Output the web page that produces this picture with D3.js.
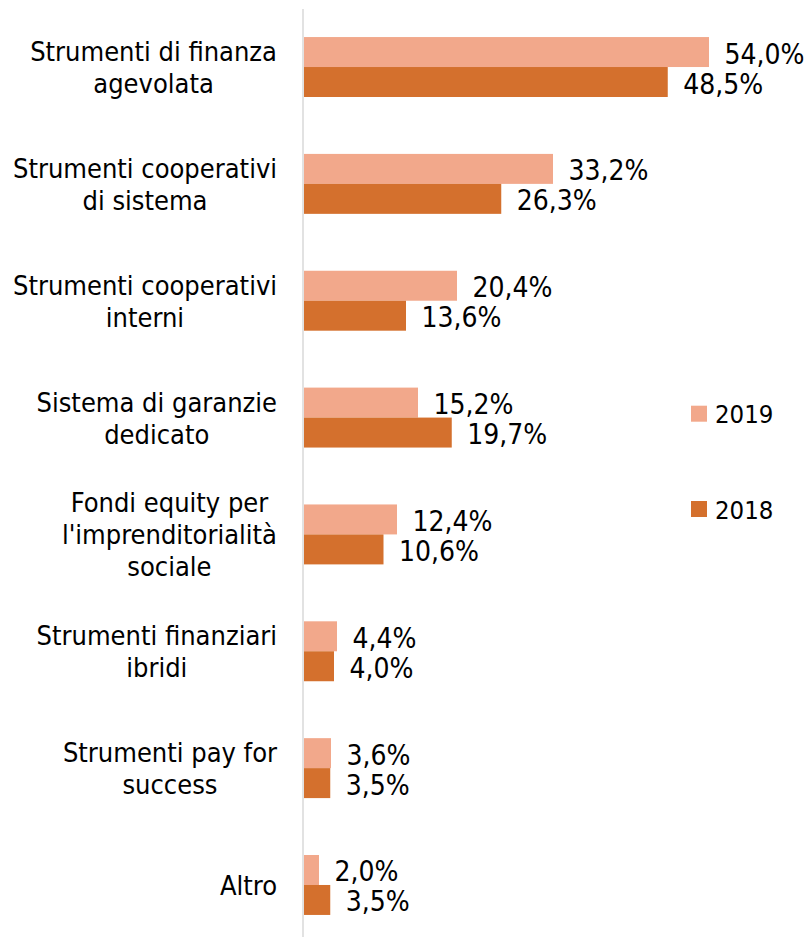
<!DOCTYPE html>
<html><head><meta charset="utf-8">
<script src="https://cdn.jsdelivr.net/npm/d3@7"></script>
<style>body{margin:0;background:#fff;} svg{display:block;}</style>
</head><body>
<svg id="c" width="810" height="937"></svg>
<script>
const categories = [
  ["Strumenti di finanza","agevolata"],
  ["Strumenti cooperativi","di sistema"],
  ["Strumenti cooperativi","interni"],
  ["Sistema di garanzie","dedicato"],
  ["Fondi equity per","l'imprenditorialità","sociale"],
  ["Strumenti finanziari","ibridi"],
  ["Strumenti pay for","success"],
  ["Altro"]
];
const series = ["2019","2018"];
const values2019 = [54.0, 33.2, 20.4, 15.2, 12.4, 4.4, 3.6, 2.0];
const values2018 = [48.5, 26.3, 13.6, 19.7, 10.6, 4.0, 3.5, 3.5];
const colors = ["#F2A88B", "#D4702D"];

const svg = d3.select("#c");
const FONT = "'DejaVu Sans Condensed', 'DejaVu Sans', sans-serif";

const keys = categories.map((c,i)=>i);
const y = d3.scaleBand().domain(keys).range([8.6, 943.4]).paddingInner(0.487).paddingOuter(0.2435);
const yInner = d3.scaleBand().domain(series).range([0, y.bandwidth()]);
const x = d3.scaleLinear().domain([0, 60]).range([304, 754]);

const data = [values2019, values2018];

// axis line
svg.append("line").attr("x1",303).attr("x2",303).attr("y1",9).attr("y2",937)
  .attr("stroke","#d9d9d9").attr("stroke-width",1.5);

series.forEach((s, si) => {
  const g = svg.append("g");
  g.selectAll("rect").data(data[si]).enter().append("rect")
    .attr("x", x(0))
    .attr("y", (d,i)=> y(i) + yInner(s))
    .attr("width", d => x(d) - x(0))
    .attr("height", yInner.bandwidth())
    .attr("fill", colors[si]);
  g.selectAll("text").data(data[si]).enter().append("text")
    .attr("x", d => x(d) + 15.5)
    .attr("y", (d,i)=> y(i) + yInner(s) + yInner.bandwidth()/2 + 11.5)
    .attr("font-family", FONT).attr("font-size", 28).attr("fill","#000")
    .text(d => d3.format(".1f")(d).replace(".", ",") + "%");
});

// category labels
const LH = 32;
categories.forEach((lines, i) => {
  const cy = y(i) + y.bandwidth()/2;
  const t = svg.append("text").attr("font-family", FONT).attr("font-size", 27)
    .attr("text-anchor","middle").attr("fill","#000");
  const n = lines.length;
  const tsp = lines.map((l, k) => t.append("tspan").text(l)
    .attr("y", cy + (k - (n-1)/2) * LH + 10));
  const maxW = d3.max(tsp, s => s.node().getComputedTextLength());
  const cx = 277 - maxW/2;
  tsp.forEach(s => s.attr("x", cx));
});

// legend
const legY = [405.7, 501];
series.forEach((s, si) => {
  svg.append("rect").attr("x", 691).attr("y", legY[si]).attr("width",16).attr("height",16).attr("fill", colors[si]);
  svg.append("text").attr("x", 715).attr("y", legY[si] + 17.5)
    .attr("font-family", FONT).attr("font-size", 25.5).attr("fill","#000").text(s);
});
</script>
</body></html>
